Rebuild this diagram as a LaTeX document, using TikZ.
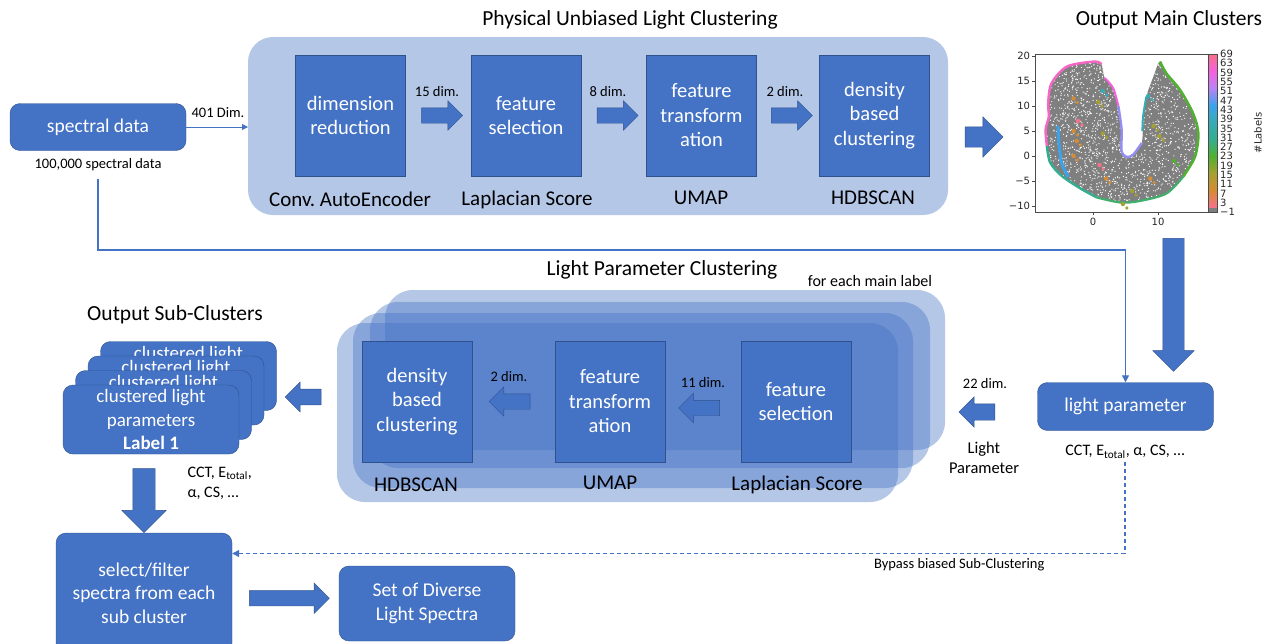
\documentclass[tikz,border=0pt]{standalone}
\usepackage{fontspec}
\setmainfont{Carlito}
\newfontfamily\plotfont{DejaVu Sans}
\usepackage{tikz}
\usetikzlibrary{arrows.meta, positioning, calc, shapes.arrows}
\definecolor{pptblue}{HTML}{4472C4}
\definecolor{pptedge}{HTML}{2F528F}
\definecolor{pptlight}{HTML}{B4C7E7}
\definecolor{plotgray}{HTML}{7F7F7F}
% husl-like palette of the label colour bar
\definecolor{cb0}{HTML}{F77189}
\definecolor{cb1}{HTML}{D58C32}
\definecolor{cb2}{HTML}{A4A031}
\definecolor{cb3}{HTML}{50B131}
\definecolor{cb4}{HTML}{34AE91}
\definecolor{cb5}{HTML}{37ABB5}
\definecolor{cb6}{HTML}{3BA3EC}
\definecolor{cb7}{HTML}{BB83F4}
\definecolor{cb8}{HTML}{F561DD}
\definecolor{cb9}{HTML}{F77189}
\frenchspacing

\begin{document}
\begin{tikzpicture}[x=1pt, y=-1pt,
    proc/.style={draw=pptedge, fill=pptblue, text=white, align=center,
      minimum width=110pt, minimum height=121pt, inner sep=1pt,
      font=\fontsize{20.5}{24.5}\selectfont},
    databox/.style={draw=pptedge, fill=pptblue, text=white, align=center,
      rounded corners=10pt, font=\fontsize{19.5}{23.5}\selectfont},
    tool/.style={font=\fontsize{21}{25}\selectfont},
    title/.style={font=\fontsize{21.5}{26}\selectfont},
    dimlabel/.style={font=\fontsize{14.5}{16}\selectfont},
    barrow/.style={single arrow, draw=pptedge, fill=pptblue, inner sep=7.5pt,
      minimum height=41pt, minimum width=29pt, single arrow head extend=7pt},
    wire/.style={pptblue, line width=1.3pt, -{Triangle[length=7pt, width=7pt]}},
    plotlab/.style={font=\plotfont\fontsize{10}{10}\selectfont, text=black!85, inner sep=1pt},
    layer/.style={fill=pptblue, fill opacity=0.4, rounded corners=28pt}]
  \useasboundingbox (0,0) rectangle (1271,643);

  % input
  \node[databox, minimum width=176pt, minimum height=47pt] (spec) at (98,127) {spectral data};
  \node[dimlabel] (speccount) at (98,165) {100,000 spectral data};

  % physical unbiased light clustering
  \fill[pptlight, rounded corners=25pt] (248,37) rectangle (948,215);
  \node[title] (putitle) at (630,20) {Physical Unbiased Light Clustering};
  \coordinate (puin) at (248,127);
  \draw[wire, line width=0.8pt, -{Triangle[length=6pt, width=6pt]}] (spec.east) -- (puin);
  \node[dimlabel] (dim401) at (218,113) {401 Dim.};

  \node[proc] (dimred) at (350.5,115.5) {dimension\\reduction};
  \node[proc] (featsel) at (526,115.5) {feature\\selection};
  \node[proc] (umap) at (701.5,115.5) {feature\\transform\\ation};
  \node[proc] (hdb) at (874.5,115.5) {density\\based\\clustering};
  \node[tool] (caetool) at (350,199) {Conv. AutoEncoder};
  \node[tool] (lstool) at (527,200) {Laplacian Score};
  \node[tool] (umaptool) at (701,198) {UMAP};
  \node[tool] (hdbtool) at (873,198) {HDBSCAN};

  \node[barrow] (a1) at ($(dimred.east)!.5!(featsel.west)$) {};
  \node[barrow] (a2) at ($(featsel.east)!.5!(umap.west)$) {};
  \node[barrow] (a3) at ($(umap.east)!.5!(hdb.west)$) {};
  \node[dimlabel] (dim15) at (437,92) {15 dim.};
  \node[dimlabel] (dim8) at (608,92) {8 dim.};
  \node[dimlabel] (dim2) at (785,92) {2 dim.};
  \node[barrow, inner sep=10pt, minimum height=38pt, minimum width=40pt, single arrow head extend=10pt] (a4) at (979,137) {};

  % output main clusters
  \node[title] (mctitle) at (1169,20) {Output Main Clusters};
  \begin{scope}[shift={(1093,156)}, x=6.5pt, y=5pt]
    \fill[plotgray, save path=\blobpath] plot[smooth cycle, tension=0.55] coordinates {
      (0.3,18.9) (-4,17.9) (-6.4,14.5) (-6.9,10.5) (-6.8,7.9) (-7.3,5.3) (-7.1,2)
      (-6.6,-1.3) (-4.8,-4) (-1.8,-6.6) (0.6,-8.3) (4.2,-9.3) (7.2,-9) (11.3,-7.5)
      (13.9,-4.1) (15.7,-0.1) (16.2,4.5) (15.4,8.5) (13.4,13.2) (11.3,16.5) (10.3,18.9)
      (9.3,15.9) (8.2,11.9) (7.7,7.9) (7.5,2.6) (6.2,0.3) (5.2,-0.2) (4.4,1)
      (4.4,5.3) (3.9,10) (3.1,13.6) (1.8,15.6) (1.3,18.3)};
    \begin{scope}
      \clip[use path=\blobpath];
      \pgfmathsetseed{7}
      \foreach \i in {1,...,2200}{
        \pgfmathsetmacro{\rx}{-8+rnd*25}
        \pgfmathsetmacro{\ry}{-10+rnd*29.5}
        \fill[white] (\rx,\ry) circle (0.65pt);
      }
    \end{scope}
    \draw[cb8!70!cb9, line width=2.4pt] plot[smooth] coordinates {(1.3,18.3) (0.3,18.9) (-4,17.9) (-6.4,14.5) (-6.9,10.5) (-6.8,7.9) (-7.3,5.3) (-7.1,2)};
    \draw[cb8, line width=2pt] plot[smooth] coordinates {(1.8,15.6) (3.1,13.6) (3.9,10)};
    \draw[cb7!70!cb6, line width=2.4pt] plot[smooth] coordinates {(3.9,10) (4.4,5.3) (4.4,1) (5.2,-0.2) (6.2,0.3) (7.5,2.6)};
    \draw[cb3, line width=2.6pt] plot[smooth] coordinates {(10.3,18.9) (11.3,16.5) (13.4,13.2) (15.4,8.5) (16.2,4.5) (15.7,-0.1) (13.9,-4.1)};
    \draw[cb4, line width=2.4pt] plot[smooth] coordinates {(-7.1,2) (-6.6,-1.3) (-4.8,-4) (-1.8,-6.6) (0.6,-8.3)};
    \draw[cb4!60!cb3, line width=2.2pt] plot[smooth] coordinates {(0.6,-8.3) (4.2,-9.3) (7.2,-9) (11.3,-7.5) (13.9,-4.1)};
    \draw[cb5, line width=2pt] plot[smooth] coordinates {(8.2,11.9) (7.7,7.9) (7.6,5)};
    \draw[cb6, line width=3pt] plot[smooth] coordinates {(-5.4,6) (-5.2,2) (-4.8,-1.5) (-3.8,-4.2)};
    \foreach \px/\py/\c in {-3/11.5/cb1, -2.3/7/cb0, -3/5/cb1, -2.5/3/cb1, -3/0/cb1,
        2/-4.5/cb1, 8.8/-4.5/cb1, 6/-7/cb2, 0.8/10.8/cb2, 1.5/4.5/cb2, 4.6/-9.6/cb2,
        10.2/4/cb2, 1/-1.8/cb0, 1.5/13/cb5, 9.3/6/cb2, 12.5/-1/cb3, 8.5/12/cb5}{
      \fill[\c] (\px,\py) circle (2.2pt);
      \fill[\c] (\px+0.6,\py-0.8) circle (1.8pt);
    }
    \draw[black!70, line width=0.6pt] (-8.92,20.4) rectangle (17.69,-11.2);
    \foreach \v/\t in {20/20, 15/15, 10/10, 5/5, 0/0, -5/−5, -10/−10}{
      \draw[black!70, line width=0.6pt] (-8.92,\v) -- ++(-3pt,0);
      \node[plotlab, anchor=east] (ytick\t) at (-9.5,\v) {\t};
    }
    \foreach \v in {0,10}{
      \draw[black!70, line width=0.6pt] (\v,-11.2) -- ++(0,-3pt);
      \node[plotlab, anchor=north] (xtick\v) at (\v,-12.2) {\v};
    }
  \end{scope}
  % colour bar
  \fill[plotgray] (1208,207) rectangle (1217,212);
  \foreach \lo/\hi [count=\k] in {cb0/cb1, cb1/cb2, cb2/cb3, cb3/cb4, cb4/cb5,
      cb5/cb6, cb6/cb7, cb7/cb8, cb8/cb9}{
    \shade[bottom color=\lo, top color=\hi] (1208,{207-17*(\k-1)}) rectangle (1217,{207-17*\k});
  }
  \draw[black!70, line width=0.6pt] (1208,54) rectangle (1217,212);
  \foreach \t [count=\k from 0] in {69,63,59,55,51,47,43,39,35,31,27,23,19,15,11,7,3,−1}{
    \node[plotlab, anchor=west, inner sep=0pt] (cbtick\k) at (1220,{54+9.3*\k}) {\t};
  }
  \node[plotlab, rotate=90] (cbname) at (1258,133) {\#Labels};

  \node[barrow, shape border rotate=270, inner sep=10.5pt, minimum height=133pt, minimum width=41pt,
    single arrow head extend=10pt] (a5) at (1173.5,299.5) {};

  % light parameters
  \node[databox, minimum width=176pt, minimum height=48pt] (lightpar) at (1125.5,406.5) {light parameter};
  \node[font=\fontsize{16}{19}\selectfont] (lpvals) at (1125,452) {CCT, E\textsubscript{total}, α, CS, …};
  \coordinate (route) at (600,250);
  \draw[wire] ([yshift=-4pt]speccount.south) |- (route) -| (lightpar.north);
  \node[barrow, shape border rotate=180, inner sep=8pt, minimum height=36pt] (a6) at (981,412) {};
  \node[dimlabel] (dim22) at (985,384) {22 dim.};
  \node[align=center, font=\fontsize{16.5}{20}\selectfont] (lpname) at (984,458) {Light\\Parameter};

  % light parameter clustering, one layer per main label
  \fill[layer] (385,290) rectangle (945,450);
  \fill[layer] (370,302) rectangle (930,468);
  \fill[layer] (353,313) rectangle (913,488);
  \fill[layer] (337,323) rectangle (898,502);
  \node[title] (lptitle) at (662,270) {Light Parameter Clustering};
  \node[font=\fontsize{16}{19}\selectfont] (eachlabel) at (870,281) {for each main label};

  \node[proc] (hdb2) at (417,401.5) {density\\based\\clustering};
  \node[proc] (umap2) at (610,401.5) {feature\\transform\\ation};
  \node[proc] (featsel2) at (796,401.5) {feature\\selection};
  \node[tool] (hdbtool2) at (416,485) {HDBSCAN};
  \node[tool] (umaptool2) at (610,483) {UMAP};
  \node[tool] (lstool2) at (797,485) {Laplacian Score};
  \node[barrow, shape border rotate=180] (a7) at ([yshift=-6.5pt]$(umap2.east)!.5!(featsel2.west)$) {};
  \node[barrow, shape border rotate=180] (a8) at ($(hdb2.east)!.5!(umap2.west)$) {};
  \node[dimlabel] (dim11) at (703,383) {11 dim.};
  \node[dimlabel] (dim2b) at (509,377) {2 dim.};

  % output sub-clusters
  \node[title] (sctitle) at (175,315) {Output Sub-Clusters};
  \foreach \k in {3,2,1,0}{
    \node[databox, minimum width=176pt, minimum height=69pt, font=\fontsize{19}{23.5}\selectfont]
      (sub\k) at ({151+12.5*\k},{419.5-14.5*\k}) {clustered light\\parameters\\\textbf{Label 1}};
  }
  \node[barrow, shape border rotate=180, minimum height=36pt, minimum width=30pt] (a9) at (307,397) {};
  \node[align=left, anchor=west, font=\fontsize{16}{20}\selectfont] (subvals) at (184,483)
    {CCT, E\textsubscript{total},\\α, CS, …};
  \node[barrow, shape border rotate=270, inner sep=11pt, minimum height=64pt, minimum width=44pt,
    single arrow head extend=11pt] (a10) at (144,495) {};

  % selection
  \node[databox, minimum width=176pt, minimum height=120pt] (select) at (144,593)
    {select/filter\\spectra from each\\sub cluster};
  \node[databox, minimum width=176pt, minimum height=75pt] (diverse) at (427,603.5)
    {Set of Diverse\\Light Spectra};
  \node[barrow, minimum height=80pt, minimum width=30pt, single arrow head extend=7.5pt]
    (a11) at ($(select.east)!.5!(diverse.west)$) {};

  \coordinate (bypass) at (1125,553.5);
  \draw[wire, line width=1.1pt, dash pattern=on 4pt off 3pt] (lpvals.south) -- (bypass) -- (bypass -| select.east);
  \node[dimlabel, anchor=north east] (bypasstext) at (1048,555) {Bypass biased Sub-Clustering};
\end{tikzpicture}
\end{document}
